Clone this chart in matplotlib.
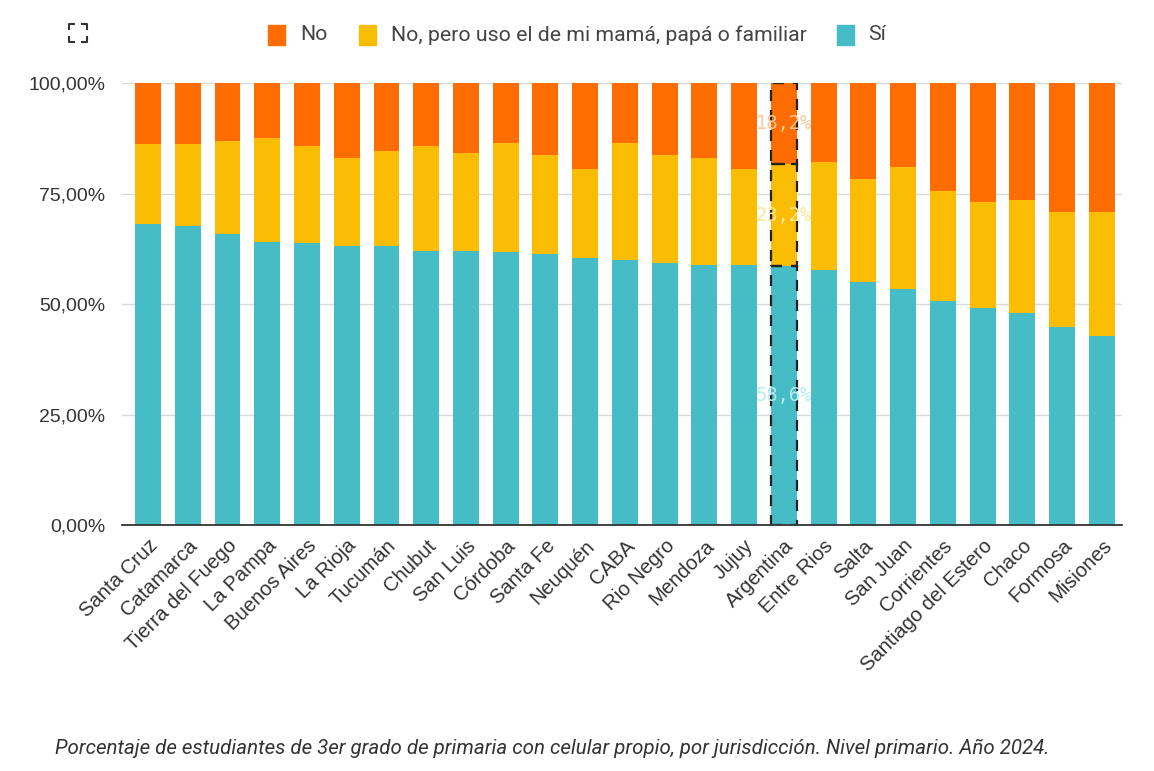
import matplotlib
matplotlib.use("Agg")
import matplotlib.pyplot as plt
from matplotlib.patches import Rectangle
from matplotlib.lines import Line2D
import numpy as np

# datos (porcentajes)
provincias = ["Santa Cruz", "Catamarca", "Tierra del Fuego", "La Pampa", "Buenos Aires",
              "La Rioja", "Tucumán", "Chubut", "San Luis", "Córdoba", "Santa Fe", "Neuquén",
              "CABA", "Rio Negro", "Mendoza", "Jujuy", "Argentina", "Entre Rios", "Salta",
              "San Juan", "Corrientes", "Santiago del Estero", "Chaco", "Formosa", "Misiones"]
si = [68.2, 67.7, 65.9, 64.1, 63.9, 63.3, 63.3, 62.1, 62.1, 61.8, 61.3, 60.5,
      60.0, 59.4, 59.0, 58.9, 58.6, 57.8, 55.1, 53.5, 50.8, 49.1, 48.1, 44.9, 42.9]
familiar = [18.1, 18.6, 21.1, 23.6, 21.9, 19.8, 21.4, 23.7, 22.1, 24.8, 22.5, 20.2,
            26.6, 24.4, 24.1, 21.7, 23.2, 24.5, 23.3, 27.5, 24.8, 24.1, 25.5, 25.9, 27.9]
no = [13.7, 13.7, 13.0, 12.3, 14.2, 16.9, 15.3, 14.2, 15.8, 13.4, 16.2, 19.3,
      13.4, 16.2, 16.9, 19.4, 18.2, 17.7, 21.6, 19.0, 24.4, 26.8, 26.4, 29.2, 29.2]
yticks = [0, 25, 50, 75, 100]

c_no = "#FF6D01"
c_fam = "#FBBC04"
c_si = "#46BDC6"

fig = plt.figure(figsize=(11.54, 7.71), dpi=100)
ax = fig.add_axes([0.1057, 0.319, 0.8663, 0.5727])

x = np.arange(len(provincias))
si = np.array(si)
familiar = np.array(familiar)
no = np.array(no)
w = 0.65
ax.bar(x, si, w, color=c_si, zorder=2)
ax.bar(x, familiar, w, bottom=si, color=c_fam, zorder=2)
ax.bar(x, no, w, bottom=si + familiar, color=c_no, zorder=2)

# resaltado de Argentina
i = provincias.index("Argentina")
for bot, h in [(0, si[i]), (si[i], familiar[i]), (si[i] + familiar[i], no[i])]:
    ax.add_patch(Rectangle((i - w / 2, bot), w, h, fill=False, edgecolor="#222222",
                           linestyle=(0, (5, 4)), linewidth=1.6, zorder=3))
etiquetas = [(si[i] / 2, si[i], "#B8EBEF"),
             (si[i] + familiar[i] / 2, familiar[i], "#FDE79A"),
             (si[i] + familiar[i] + no[i] / 2, no[i], "#FBC99A")]
for y, v, col in etiquetas:
    ax.text(i, y, f"{v:.1f}%".replace(".", ","), ha="center", va="center",
            fontsize=13.5, color=col, family="DejaVu Sans Mono", zorder=4)

ax.set_xlim(-0.654, len(provincias) - 0.5)
ax.set_ylim(0, 100)
ax.set_yticks(yticks)
ax.set_yticklabels([f"{t:.2f}%".replace(".", ",") for t in yticks],
                   fontsize=14, color="#333333", family="Liberation Sans")
ax.tick_params(axis="y", length=0, pad=12)
ax.set_xticks(x)
ax.set_xticklabels(provincias, rotation=45, ha="right", rotation_mode="anchor",
                   fontsize=14.6, color="#333333", family="Liberation Sans")
ax.tick_params(axis="x", length=0, pad=8)
ax.grid(axis="y", color="#DADADA", linewidth=1, zorder=0)
for s in ["top", "right", "left"]:
    ax.spines[s].set_visible(False)
ax.spines["bottom"].set_color("#333333")
ax.spines["bottom"].set_linewidth(1.3)
ax.spines["bottom"].set_zorder(5)

# leyenda
W, H = 1154, 771
def fx(px):
    return px / W
def fy(py):
    return 1 - py / H
leyenda = [(268, 300, c_no, "No"), (359, 391, c_fam, "No, pero uso el de mi mamá, papá o familiar"),
           (837, 868, c_si, "Sí")]
for sx, tx, col, lab in leyenda:
    fig.add_artist(Rectangle((fx(sx), fy(45)), fx(17), 20 / H, color=col,
                             transform=fig.transFigure))
    fig.text(fx(tx), fy(35), lab, fontsize=15.3, color="#444444", va="center",
             family="Roboto")

# icono de pantalla completa
for xs, ys in [([69, 69, 74], [29, 24, 24]), ([82, 87, 87], [24, 24, 29]),
               ([69, 69, 74], [37, 42, 42]), ([82, 87, 87], [42, 42, 37])]:
    fig.add_artist(Line2D([fx(v) for v in xs], [fy(v) for v in ys], color="#333333",
                          linewidth=1.5, transform=fig.transFigure))

fig.text(fx(55), fy(748),
         "Porcentaje de estudiantes de 3er grado de primaria con celular propio, por jurisdicción. Nivel primario. Año 2024.",
         fontsize=14.8, style="italic", color="#333333", va="center", family="Roboto")

fig.savefig("out.png", dpi=100, facecolor="white")
